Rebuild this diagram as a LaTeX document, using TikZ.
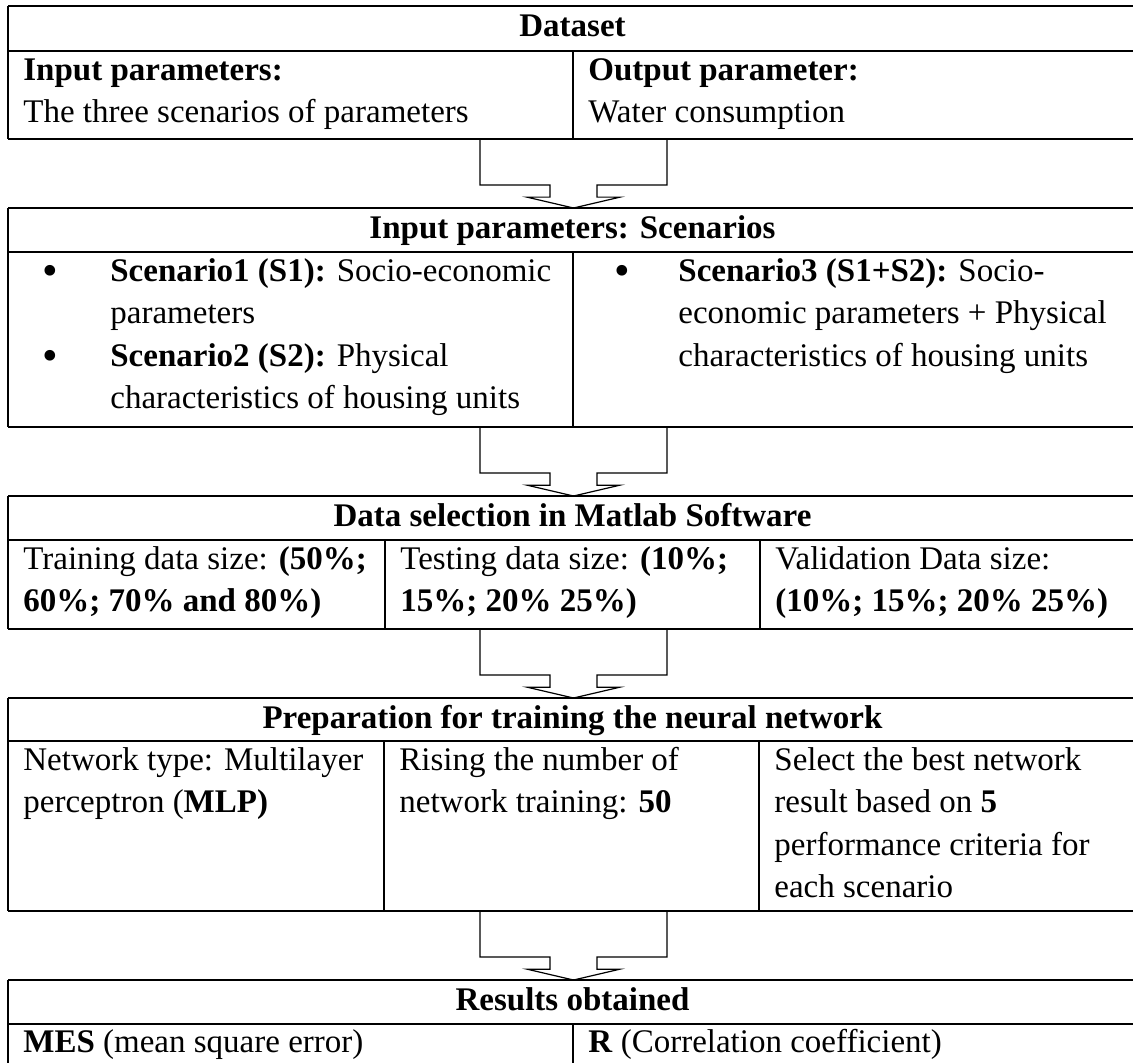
\documentclass[tikz,border=0pt]{standalone}
\usepackage{graphicx}
\usepackage{fontspec}
\setmainfont{Liberation Serif}
\usetikzlibrary{shapes.arrows}

\newcommand{\cellfont}{\fontsize{16.5}{21.25}\selectfont}

\tikzset{
  rowline/.style={line width=1pt},
  colline/.style={line width=0.6pt},
  cell/.style={anchor=base west, inner sep=0pt, align=left, font=\cellfont},
  head/.style={anchor=base, inner sep=0pt, font=\cellfont\bfseries},
  dot/.style={anchor=base west, inner sep=0pt, font=\cellfont},
  flowarrow/.style={shape=arrow box, draw, line width=0.6pt,
    minimum width=93.5pt, minimum height=23pt, inner sep=0pt, outer sep=0pt,
    arrow box shaft width=23.5pt, arrow box head extend=11.5pt,
    arrow box head indent=0pt, arrow box tip angle=153.7,
    arrow box arrows={south:11.5pt}}
}

\begin{document}
\begin{tikzpicture}[x=0.5pt,y=-0.5pt]
    \path[use as bounding box] (0,0) rectangle (1133,1062);
    \clip (0,0) rectangle (1133,1062);

    % Arrows
    \node[flowarrow] (arrA) at (573.5,162) {};
    \node[flowarrow] (arrB) at (573.5,450) {};
    \node[flowarrow] (arrC) at (573.5,652) {};
    \node[flowarrow] (arrD) at (573.5,934) {};

    % Dataset
    \draw[rowline] (8,6) -- (1140,6) (8,51) -- (1140,51) (8,139) -- (1140,139);
    \draw[colline] (8,6) -- (8,139) (573,51) -- (573,139);
    \node[head] (dataset) at (572.5,36) {Dataset};
    \node[cell] (inpar) at (23,122.5)
        {\textbf{Input parameters:}\\The three scenarios of parameters};
    \node[cell] (outpar) at (588,122.5)
        {\textbf{Output parameter:}\\Water consumption};

    % Scenarios
    \draw[rowline] (8,208) -- (1140,208) (8,252) -- (1140,252) (8,427) -- (1140,427);
    \draw[colline] (8,208) -- (8,427) (573,252) -- (573,427);
    \node[head] (scen) at (572.5,238) {Input parameters: Scenarios};
    \node[dot] (dotA) at (42,285) {\scalebox{1.35}{\textbullet}};
    \node[cell] (scenA) at (110,323.5)
        {\textbf{Scenario1 (S1):} Socio-economic\\parameters};
    \node[dot] (dotB) at (42,370) {\scalebox{1.35}{\textbullet}};
    \node[cell] (scenB) at (110,408.5)
        {\textbf{Scenario2 (S2):} Physical\\characteristics of housing units};
    \node[dot] (dotC) at (614,285) {\scalebox{1.35}{\textbullet}};
    \node[cell] (scenC) at (678,366)
        {\textbf{Scenario3 (S1+S2):} Socio-\\economic parameters + Physical\\characteristics of housing units};

    % Data selection
    \draw[rowline] (8,496) -- (1140,496) (8,540) -- (1140,540) (8,629) -- (1140,629);
    \draw[colline] (8,496) -- (8,629) (385,540) -- (385,629) (760,540) -- (760,629);
    \node[head] (select) at (572.5,526) {Data selection in Matlab Software};
    \node[cell] (train) at (23,611.5)
        {Training data size: \textbf{(50\%;}\\\textbf{60\%; 70\% and 80\%)}};
    \node[cell] (test) at (400,611.5)
        {Testing data size: \textbf{(10\%;}\\\textbf{15\%; 20\% 25\%)}};
    \node[cell] (valid) at (775,611.5)
        {Validation Data size:\\\textbf{(10\%; 15\%; 20\% 25\%)}};

    % Preparation
    \draw[rowline] (8,698) -- (1140,698) (8,741) -- (1140,741) (8,911) -- (1140,911);
    \draw[colline] (8,698) -- (8,911) (384,741) -- (384,911) (759,741) -- (759,911);
    \node[head] (prep) at (572.5,728) {Preparation for training the neural network};
    \node[cell] (nettype) at (23,812.5)
        {Network type: Multilayer\\perceptron (\textbf{MLP)}};
    \node[cell] (rising) at (399,812.5)
        {Rising the number of\\network training: \textbf{50}};
    \node[cell] (best) at (774,897.5)
        {Select the best network\\result based on \textbf{5}\\performance criteria for\\each scenario};

    % Results
    \draw[rowline] (8,980) -- (1140,980) (8,1024) -- (1140,1024);
    \draw[colline] (8,980) -- (8,1070) (573,1024) -- (573,1070);
    \node[head] (results) at (572.5,1010) {Results obtained};
    \node[cell] (mes) at (23,1052) {\textbf{MES} (mean square error)};
    \node[cell] (corr) at (588,1052) {\textbf{R} (Correlation coefficient)};
\end{tikzpicture}
\end{document}
